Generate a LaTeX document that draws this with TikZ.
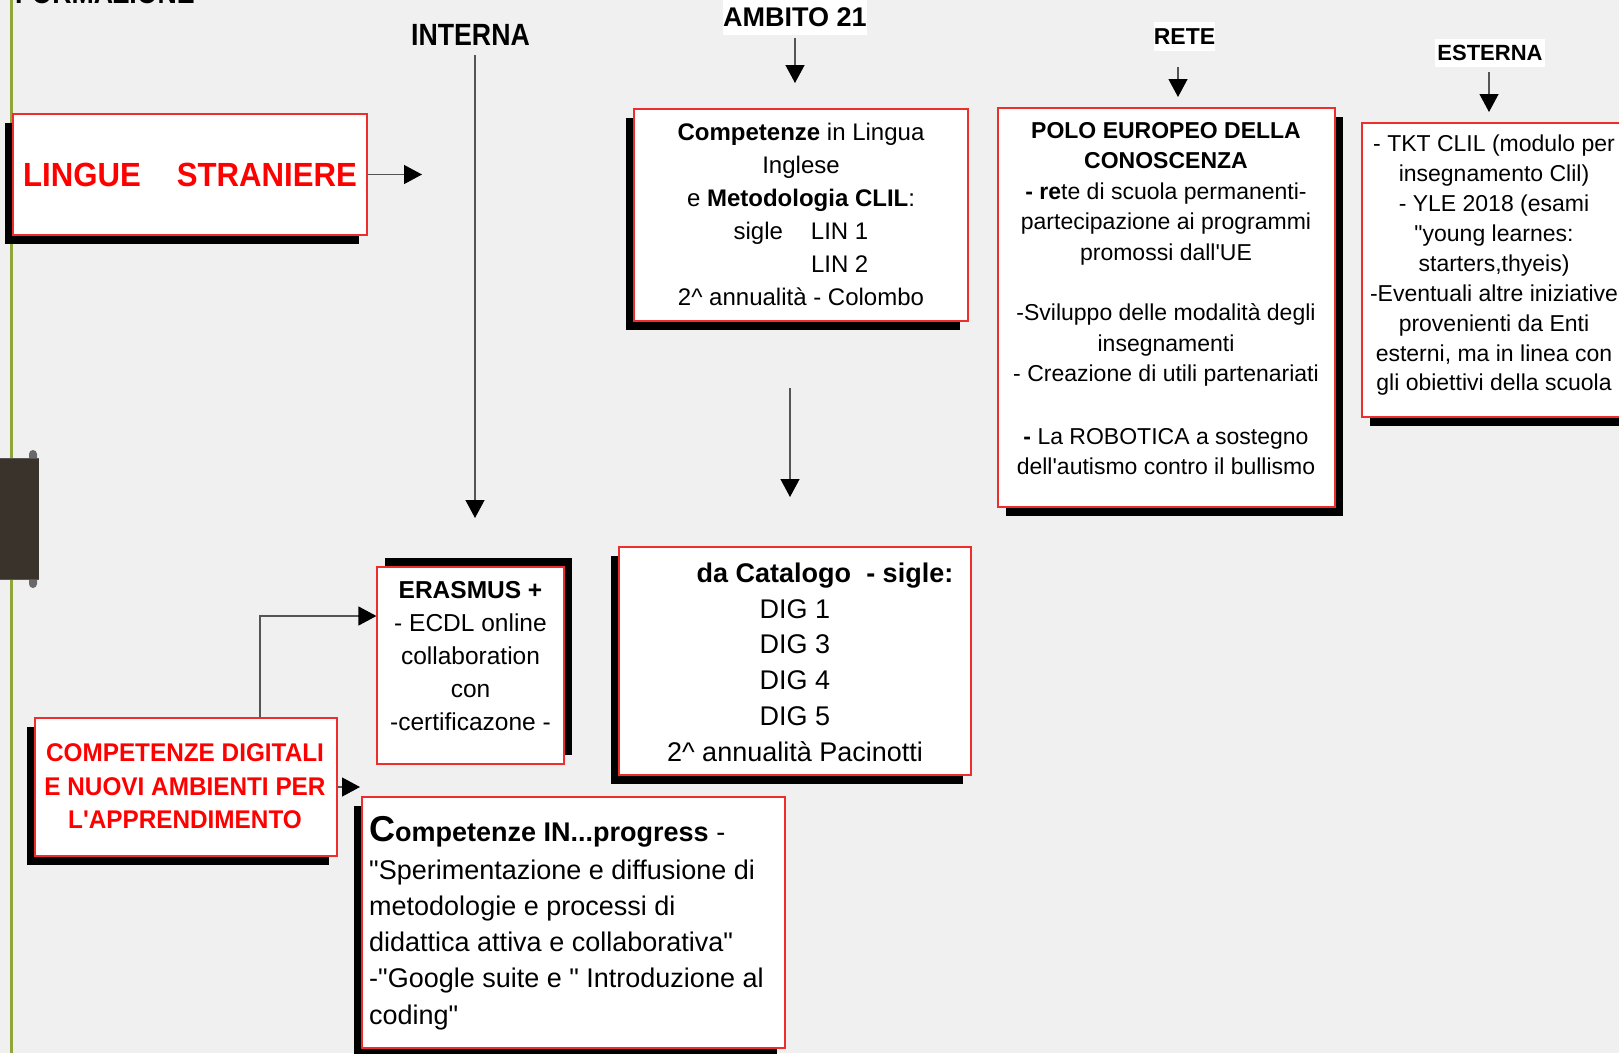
\documentclass[tikz,border=0pt]{standalone}
\usepackage{fontspec}
\setmainfont{Liberation Sans}[Ligatures=TeXOff]
\newfontfamily\hcond{Liberation Sans}[FakeStretch=0.87,Ligatures=TeXOff]
\newfontfamily\lcond{Liberation Sans}[FakeStretch=0.93,Ligatures=TeXOff]
\newfontfamily\dcond{Liberation Sans}[FakeStretch=0.95,Ligatures=TeXOff]
\usetikzlibrary{arrows.meta,shadows}
\definecolor{bg}{RGB}{240,240,240}
\definecolor{leafgreen}{RGB}{143,167,58}
\definecolor{boxred}{RGB}{238,45,45}
\definecolor{tabbrown}{RGB}{58,51,44}
\definecolor{arrowgray}{RGB}{85,85,85}
\definecolor{knobgray}{RGB}{105,105,105}
\tikzset{
  box/.style={draw=boxred, line width=1.2pt, fill=white, inner sep=0pt, rectangle},
  shLD/.style={drop shadow={shadow xshift=-8pt,shadow yshift=-9pt,fill=black,opacity=1}},
  shRD/.style={drop shadow={shadow xshift=8pt,shadow yshift=-9pt,fill=black,opacity=1}},
  shRU/.style={drop shadow={shadow xshift=8pt,shadow yshift=9pt,fill=black,opacity=1}},
  txt/.style={inner sep=0pt, anchor=north, align=center},
  arr/.style={draw=arrowgray, line width=1.3pt, -{Triangle[length=18pt,width=19pt,color=black]}},
  head/.style={font=\hcond\bfseries\fontsize{30.7}{32}\selectfont, inner sep=0pt},
  tag/.style={fill=white, inner sep=0pt}
}
\begin{document}
\begin{tikzpicture}[x=1pt,y=-1pt]
\useasboundingbox (0,0) rectangle (1619,1053);
\fill[bg] (0,0) rectangle (1619,1053);
% left decoration
\draw[leafgreen,line width=3pt] (11,0) -- (11,1053);
\fill[knobgray,rounded corners=4pt] (29,450) rectangle (37,588);
\fill[tabbrown] (0,458) rectangle (39,579);
\draw[arrowgray,line width=1pt] (0,458) -- (39,458) (0,579) -- (39,579);

% headings
\node[head,anchor=base west] (formazione) at (15,3) {FORMAZIONE};
\node[head,anchor=base] (interna) at (470.5,45) {INTERNA};
\node[tag,minimum width=144pt,minimum height=35pt,font=\bfseries\fontsize{27}{30}\selectfont] (ambito) at (795,17.5) {AMBITO 21};
\node[tag,minimum width=61pt,minimum height=29pt,font=\bfseries\fontsize{23}{26}\selectfont] (rete) at (1184.5,36.5) {RETE};
\node[tag,minimum width=110pt,minimum height=28pt,font=\bfseries\fontsize{22}{25}\selectfont] (esterna) at (1490,53) {ESTERNA};

% boxes
\node[box,shLD,minimum width=354pt,minimum height=121pt] (lingue) at (190,174.5) {};
\node[inner sep=0pt,anchor=base,text=red,font=\lcond\bfseries\fontsize{33.5}{36}\selectfont] (lingueT) at (190,186) {LINGUE\hspace{36pt}STRANIERE};

\node[box,shLD,minimum width=334pt,minimum height=212pt] (clil) at (801,215) {};
\node[txt,font=\fontsize{24}{33}\selectfont] (clilT) at (801,120) {\rule{0pt}{20pt}\textbf{Competenze} in Lingua\\
Inglese\\
 e \textbf{Metodologia CLIL}:\\
sigle\hspace{28pt}LIN 1\\
\phantom{sigle}\hspace{28pt}LIN 2\\
2\textasciicircum{} annualità - Colombo};

\node[box,shRD,minimum width=337pt,minimum height=399pt] (polo) at (1166.5,307.5) {};
\node[txt,font=\fontsize{23}{30.5}\selectfont] (poloT) at (1166,118) {\rule{0pt}{20pt}\textbf{POLO EUROPEO DELLA}\\
\textbf{CONOSCENZA}\\
\textbf{- re}te di scuola permanenti-\\
partecipazione ai programmi\\
promossi dall'UE\\[30pt]
-Sviluppo delle modalità degli\\
insegnamenti\\
- Creazione di utili partenariati\\[32pt]
\textbf{-} La ROBOTICA a sostegno\\
dell'autismo contro il bullismo};

\node[box,shRD,minimum width=264pt,minimum height=294pt] (ext) at (1494,270) {};
\node[txt,font=\fontsize{23}{29.9}\selectfont] (extT) at (1494,131.5) {\rule{0pt}{20pt}- TKT CLIL (modulo per\\
insegnamento Clil)\\
- YLE 2018 (esami\\
"young learnes:\\
starters,thyeis)\\
-Eventuali altre iniziative\\
provenienti da Enti\\
esterni, ma in linea con\\
gli obiettivi della scuola};

\node[box,shRU,minimum width=187pt,minimum height=197pt] (erasmus) at (470.5,665.5) {};
\node[txt,font=\fontsize{24.5}{33}\selectfont] (erasmusT) at (470.5,578) {\rule{0pt}{20pt}\textbf{ERASMUS +}\\
- ECDL online\\
collaboration\\
con\\
-certificazone -};

\node[box,shLD,minimum width=352pt,minimum height=228pt] (catalogo) at (795,661) {};
\node[txt,font=\fontsize{27}{35.8}\selectfont] (catalogoT) at (795,560) {\rule{0pt}{22pt}\hspace*{60pt}\textbf{da Catalogo\ \ - sigle:}\\
DIG 1\hspace*{10pt}\\
DIG 3\\
DIG 4\\
DIG 5\\
2\textasciicircum{} annualità Pacinotti};

\node[box,shLD,minimum width=302pt,minimum height=138pt] (digitali) at (186,787) {};
\node[txt,text=red,font=\dcond\bfseries\fontsize{25.6}{33.5}\selectfont] (digitaliT) at (185,741.5) {\rule{0pt}{20pt}COMPETENZE DIGITALI\\
E NUOVI AMBIENTI PER\\
L'APPRENDIMENTO};

\node[box,shLD,minimum width=423pt,minimum height=251pt] (progress) at (573.5,922.5) {};
\node[inner sep=0pt,anchor=north west,align=left,font=\fontsize{27}{36.3}\selectfont] (progressT) at (369,813.5) {\rule{0pt}{28pt}{\fontsize{36}{36}\selectfont\textbf{C}}\textbf{ompetenze IN...progress} -\\[1pt]
"Sperimentazione e diffusione di\\
metodologie e processi di\\
didattica attiva e collaborativa"\\
-"Google suite e " Introduzione al\\
coding"};

% connectors
\coordinate (iA) at (475,55);
\coordinate (iB) at (475,518);
\draw[arr] (iA) -- (iB);
\coordinate (aA) at (795,38);
\coordinate (aB) at (795,83);
\draw[arr] (aA) -- (aB);
\coordinate (rA) at (1178,67);
\coordinate (rB) at (1178,97);
\draw[arr] (rA) -- (rB);
\coordinate (eA) at (1489,72);
\coordinate (eB) at (1489,112);
\draw[arr] (eA) -- (eB);
\coordinate (mA) at (790,388);
\coordinate (mB) at (790,497);
\draw[arr] (mA) -- (mB);
\coordinate (lB) at (422,174.5);
\draw[arr] (lingue.east) -- (lB);
\coordinate (dA) at (260,616);
\draw[arr] (digitali.north -| dA) |- (erasmus.west |- dA);
\coordinate (dB) at (360,787);
\draw[arr] (digitali.east) -- (dB);
\end{tikzpicture}
\end{document}
